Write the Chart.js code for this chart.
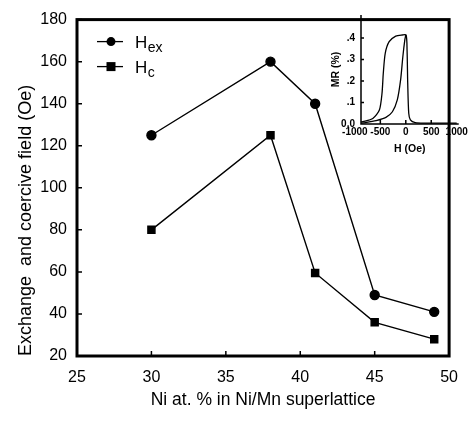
<!DOCTYPE html>
<html>
<head>
<meta charset="utf-8">
<script src="https://cdn.jsdelivr.net/npm/chart.js@4/dist/chart.umd.min.js"></script>
<style>
  html, body { margin: 0; padding: 0; background: #fff; }
  #wrap { position: relative; width: 470px; height: 426px; }
  #main { position: absolute; left: 0; top: 0; }
  #inset { position: absolute; left: 300px; top: 0; }
</style>
</head>
<body>
<div id="wrap">
  <canvas id="main" width="470" height="426"></canvas>
  <canvas id="inset" width="170" height="160"></canvas>
</div>
<script>
// ---- main chart data ----
const niPercent = [30, 38, 41, 45, 49];
const hexValues = [125, 160, 140, 49, 41];
const hcValues  = [80, 125, 59.5, 36, 28];
const xTickValues = [25, 30, 35, 40, 45, 50];
const yTickValues = [20, 40, 60, 80, 100, 120, 140, 160, 180];

// ---- inset (MR vs H) data ----
const fieldOuter = [-880, -840, -648, -519, -467, -442, -404, -327, -198, -71, 6, 25, 38, 58, 90, 187, 400, 700, 1000];
const mrOuter    = [0.010, 0.011, 0.026, 0.065, 0.143, 0.236, 0.329, 0.383, 0.409, 0.414, 0.414, 0.344, 0.189, 0.050, 0.019, 0.006, 0.004, 0.004, 0.004];
const fieldInner = [-880, -840, -583, -390, -263, -167, -102, -58, -19, 0];
const mrInner    = [0.004, 0.005, 0.016, 0.031, 0.057, 0.112, 0.205, 0.313, 0.391, 0.414];
const insetXTicks = [-1000, -500, 0, 500, 1000];
const insetXLabels = ['-1000', '-500', '0', '500', '1000'];
const insetYTicks = [0, 0.1, 0.2, 0.3, 0.4];
const insetYLabels = ['0.0', '.1', '.2', '.3', '.4'];

const FONT = '"Liberation Sans", Arial, sans-serif';

function pts(xs, ys) { return xs.map((x, i) => ({ x: x, y: ys[i] })); }

// frame + inward ticks + legend for main chart
const mainDecor = {
  id: 'mainDecor',
  afterDraw(chart) {
    const { ctx, chartArea: a, scales } = chart;
    ctx.save();
    ctx.strokeStyle = '#000';
    ctx.lineWidth = 1.5;
    ctx.beginPath();
    yTickValues.forEach(v => {
      const y = scales.y.getPixelForValue(v);
      ctx.moveTo(a.left, y); ctx.lineTo(a.left + 5, y);
    });
    xTickValues.forEach(v => {
      const x = scales.x.getPixelForValue(v);
      ctx.moveTo(x, a.bottom); ctx.lineTo(x, a.bottom - 5);
    });
    ctx.stroke();
    ctx.lineWidth = 3;
    ctx.strokeRect(a.left, a.top, a.right - a.left, a.bottom - a.top);
    const rows = [
      { y: a.top + 22, sub: 'ex', style: 'circle' },
      { y: a.top + 47, sub: 'c', style: 'rect' }
    ];
    rows.forEach(r => {
      ctx.lineWidth = 1.3;
      ctx.beginPath();
      ctx.moveTo(a.left + 20, r.y); ctx.lineTo(a.left + 46, r.y);
      ctx.stroke();
      ctx.fillStyle = '#000';
      if (r.style === 'circle') {
        ctx.beginPath(); ctx.arc(a.left + 34, r.y, 4.5, 0, Math.PI * 2); ctx.fill();
      } else {
        ctx.fillRect(a.left + 29.5, r.y - 4.5, 9, 9);
      }
      ctx.textBaseline = 'alphabetic';
      ctx.textAlign = 'left';
      ctx.font = '17px ' + FONT;
      ctx.fillText('H', a.left + 58, r.y + 6);
      const w = ctx.measureText('H').width;
      ctx.font = '14px ' + FONT;
      ctx.fillText(r.sub, a.left + 58 + w + 0.5, r.y + 10);
    });
    ctx.restore();
  }
};

new Chart(document.getElementById('main'), {
  type: 'scatter',
  data: {
    datasets: [
      {
        label: 'Hex',
        data: pts(niPercent, hexValues),
        showLine: true,
        borderColor: '#000',
        backgroundColor: '#000',
        borderWidth: 1.4,
        pointStyle: 'circle',
        pointRadius: 4.5,
        pointHoverRadius: 4.5
      },
      {
        label: 'Hc',
        data: pts(niPercent, hcValues),
        showLine: true,
        borderColor: '#000',
        backgroundColor: '#000',
        borderWidth: 1.4,
        pointStyle: 'rect',
        pointRadius: 5,
        pointHoverRadius: 5
      }
    ]
  },
  options: {
    responsive: false,
    animation: false,
    devicePixelRatio: 1,
    layout: { padding: { left: 0, top: 14, right: 9, bottom: 0 } },
    plugins: { legend: { display: false }, tooltip: { enabled: false } },
    scales: {
      x: {
        type: 'linear',
        min: 25, max: 50,
        afterFit(s) { s.height = 70; },
        afterBuildTicks(s) { s.ticks = xTickValues.map(v => ({ value: v })); },
        ticks: { color: '#000', font: { family: FONT, size: 16 }, padding: 12, maxRotation: 0 },
        grid: { display: false, drawTicks: false },
        border: { display: false },
        title: { display: true, text: 'Ni at. % in Ni/Mn superlattice', color: '#000',
                 font: { family: FONT, size: 17.5 }, padding: { top: 0, bottom: 15.5 } }
      },
      y: {
        type: 'linear',
        min: 20, max: 180,
        afterFit(s) { s.width = 77; },
        afterBuildTicks(s) { s.ticks = yTickValues.map(v => ({ value: v })); },
        ticks: { color: '#000', font: { family: FONT, size: 16 }, padding: 10 },
        grid: { display: false, drawTicks: false },
        border: { display: false },
        title: { display: true, text: 'Exchange  and coercive field (Oe)', color: '#000', align: 'start',
                 font: { family: FONT, size: 18 }, padding: { top: 15, bottom: 0 } }
      }
    }
  },
  plugins: [mainDecor]
});

const insetDecor = {
  id: 'insetDecor',
  afterDraw(chart) {
    const { ctx, chartArea: a, scales } = chart;
    ctx.save();
    ctx.strokeStyle = '#000';
    ctx.lineWidth = 1.5;
    ctx.beginPath();
    ctx.moveTo(a.left, a.top); ctx.lineTo(a.left, a.bottom); ctx.lineTo(a.right, a.bottom);
    insetYTicks.forEach(v => {
      if (v === 0) return;
      const y = scales.y.getPixelForValue(v);
      ctx.moveTo(a.left, y); ctx.lineTo(a.left + 3, y);
    });
    [-500, 0, 500].forEach(v => {
      const x = scales.x.getPixelForValue(v);
      ctx.moveTo(x, a.bottom); ctx.lineTo(x, a.bottom - 4);
    });
    ctx.stroke();
    ctx.restore();
  }
};

new Chart(document.getElementById('inset'), {
  type: 'scatter',
  data: {
    datasets: [
      { data: pts(fieldOuter, mrOuter), showLine: true, borderColor: '#000', borderWidth: 1.3, pointRadius: 0, tension: 0.25 },
      { data: pts(fieldInner, mrInner), showLine: true, borderColor: '#000', borderWidth: 1.3, pointRadius: 0, tension: 0.25 }
    ]
  },
  options: {
    responsive: false,
    animation: false,
    devicePixelRatio: 1,
    layout: { padding: { left: 0, top: 15, right: 9, bottom: 0 } },
    plugins: { legend: { display: false }, tooltip: { enabled: false } },
    scales: {
      x: {
        type: 'linear',
        min: -880, max: 1040,
        afterFit(s) { s.height = 36; },
        afterBuildTicks(s) { s.ticks = insetXTicks.map(v => ({ value: v })); },
        ticks: { color: '#000', font: { family: FONT, size: 10, weight: 'bold' }, padding: 2, maxRotation: 0, autoSkip: false,
                 callback: (v) => insetXLabels[insetXTicks.indexOf(v)] },
        grid: { display: false, drawTicks: false },
        border: { display: false },
        title: { display: true, text: 'H (Oe)', color: '#000',
                 font: { family: FONT, size: 10.5, weight: 'bold' }, padding: { top: 0, bottom: 5 } }
      },
      y: {
        type: 'linear',
        min: 0, max: 0.507,
        afterFit(s) { s.width = 61; },
        afterBuildTicks(s) { s.ticks = insetYTicks.map(v => ({ value: v })); },
        ticks: { color: '#000', font: { family: FONT, size: 10, weight: 'bold' }, padding: 6,
                 callback: (v) => insetYLabels[insetYTicks.indexOf(v)] },
        grid: { display: false, drawTicks: false },
        border: { display: false },
        title: { display: true, text: 'MR (%)', color: '#000',
                 font: { family: FONT, size: 10.5, weight: 'bold' }, padding: { top: 30, bottom: 0 } }
      }
    }
  },
  plugins: [insetDecor]
});
</script>
</body>
</html>
